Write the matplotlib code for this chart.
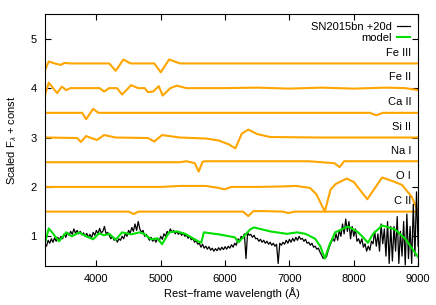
import numpy as np
import matplotlib
matplotlib.use('Agg')
import matplotlib.pyplot as plt

plt.rcParams['font.family'] = ['Liberation Sans', 'DejaVu Sans']
plt.rcParams['mathtext.fontset'] = 'custom'
plt.rcParams['mathtext.rm'] = 'Liberation Sans'
plt.rcParams['mathtext.it'] = 'Liberation Sans:italic'

# observed spectrum, sampled every 25 A
obs_wave = np.arange(3200, 9001, 25)
obs_flux = [
    0.84, 0.80, 0.92, 0.86, 0.95, 0.88, 0.97, 0.90,
    0.98, 0.92, 1.00, 0.95, 1.05, 0.98, 1.08, 1.02,
    1.10, 1.04, 1.15, 1.06, 1.12, 1.05, 1.10, 1.03,
    1.07, 1.00, 1.06, 0.98, 1.04, 0.97, 1.08, 1.02,
    1.12, 1.05, 1.16, 1.07, 1.10, 1.20, 1.05, 1.08,
    1.02, 0.95, 1.00, 0.92, 0.96, 0.88, 0.95, 0.92,
    1.00, 0.95, 1.06, 1.00, 1.12, 1.06, 1.18, 1.10,
    1.25, 1.12, 1.30, 1.15, 1.08, 1.12, 1.00, 1.04,
    0.98, 0.92, 0.98, 0.90, 0.95, 0.88, 0.96, 0.90,
    1.00, 0.94, 1.05, 1.00, 1.10, 1.05, 1.15, 1.08,
    1.12, 1.05, 1.10, 1.04, 1.08, 1.02, 1.07, 1.00,
    1.03, 0.96, 1.00, 0.93, 0.96, 0.88, 0.92, 0.84,
    0.86, 0.78, 0.84, 0.76, 0.80, 0.74, 0.79, 0.72,
    0.76, 0.70, 0.75, 0.71, 0.77, 0.72, 0.78, 0.73,
    0.79, 0.74, 0.80, 0.76, 0.83, 0.78, 0.86, 0.82,
    0.95, 0.90, 1.00, 0.96, 1.05, 0.55, 1.08, 1.02,
    1.04, 0.98, 1.02, 0.95, 0.96, 0.90, 0.94, 0.88,
    0.92, 0.86, 0.90, 0.84, 0.88, 0.82, 0.86, 0.80,
    0.84, 0.45, 0.86, 0.82, 0.88, 0.84, 0.92, 0.86,
    0.94, 0.88, 0.96, 0.90, 0.98, 0.92, 1.00, 0.94,
    0.96, 0.90, 0.94, 0.86, 0.88, 0.82, 0.86, 0.78,
    0.80, 0.74, 0.76, 0.68, 0.62, 0.55, 0.60, 0.58,
    0.70, 0.80, 0.88, 0.95, 0.90, 1.05, 0.92, 1.12,
    1.00, 1.25, 1.05, 1.35, 1.10, 1.30, 0.95, 1.20,
    1.00, 1.15, 0.90, 0.95, 0.85, 0.95, 0.78, 0.85,
    0.70, 0.80, 0.72, 0.90, 0.85, 1.10, 0.80, 1.05,
    0.70, 1.25, 0.85, 1.15, 0.60, 1.30, 0.45, 1.20,
    0.50, 1.20, 0.70, 1.40, 0.45, 1.10, 0.60, 1.30,
    0.42, 1.45, 0.55, 1.20, 0.45, 1.65, 0.60, 1.90,
    0.80,
]

model_wave = [3200, 3260, 3330, 3420, 3530, 3620, 3730, 3840, 3950, 4040,
              4120, 4200, 4300, 4400, 4540, 4670, 4740, 4850, 4950, 5020,
              5130, 5250, 5380, 5580, 5630, 5670, 5900, 6150, 6210, 6390,
              6450, 6700, 6960, 7120, 7250, 7400, 7480, 7550, 7620, 7710,
              7910, 8050, 8130, 8220, 8300, 8440, 8640, 8800, 9000]
model_flux = [0.86, 1.16, 1.05, 0.90, 1.08, 1.00, 1.08, 1.00, 0.94, 1.06,
              1.02, 1.05, 0.93, 1.08, 1.04, 1.08, 1.05, 0.94, 0.96, 0.84,
              1.08, 1.10, 1.05, 0.90, 0.87, 1.08, 1.04, 0.98, 0.88, 1.14,
              1.18, 1.10, 1.05, 1.08, 1.05, 0.95, 0.80, 0.55, 0.82, 1.08,
              1.20, 1.10, 1.00, 0.87, 1.05, 1.22, 1.14, 0.95, 0.58]

# single-ion contributions (already offset)
ions = ['Fe III', 'Fe II', 'Ca II', 'Si II', 'Na I', 'O I', 'C II']
ion_offset = [4.5, 4.0, 3.5, 3.0, 2.5, 2.0, 1.5]

feiii_wave = [3200, 3260, 3350, 3450, 3500, 3600, 4200, 4300, 4420, 4530,
              4900, 5000, 5130, 5300, 9000]
feiii_flux = [4.36, 4.54, 4.50, 4.47, 4.51, 4.50, 4.50, 4.35, 4.58, 4.50,
              4.50, 4.32, 4.58, 4.50, 4.50]

feii_wave = [3200, 3260, 3390, 3465, 3530, 3600, 4050, 4120, 4200, 4320,
             4400, 4540, 4650, 4750, 4800, 4880, 4970, 5030, 5150, 5250,
             5400, 6000, 6500, 7000, 7500, 8000, 8500, 8800, 9000]
feii_flux = [3.86, 4.11, 3.90, 4.03, 3.96, 4.00, 4.00, 3.93, 4.00, 4.00,
             3.87, 4.06, 4.00, 4.00, 3.92, 3.93, 4.04, 3.85, 4.00, 4.05,
             4.00, 4.00, 4.01, 3.99, 4.01, 3.99, 4.01, 4.00, 3.96]

caii_wave = [3200, 3780, 3840, 3950, 4030, 8250, 8350, 8450, 9000]
caii_flux = [3.50, 3.50, 3.37, 3.58, 3.50, 3.50, 3.45, 3.50, 3.50]

siii_wave = [3200, 3700, 3760, 3840, 3920, 4010, 4120, 4300, 4800, 4900,
             5020, 5300, 5700, 5900, 6060, 6160, 6260, 6360, 6500, 6700,
             7500, 9000]
siii_flux = [3.00, 2.99, 2.91, 3.03, 2.99, 2.95, 3.05, 3.00, 2.99, 2.92,
             3.05, 3.00, 2.98, 2.94, 2.86, 2.78, 3.08, 3.16, 3.07, 3.01,
             3.00, 3.00]

nai_wave = [3200, 5300, 5400, 5530, 5590, 5650, 5700, 7300, 7700, 7780,
            7850, 9000]
nai_flux = [2.50, 2.50, 2.52, 2.48, 2.31, 2.51, 2.52, 2.52, 2.48, 2.40,
            2.52, 2.52]

oi_wave = [3200, 5000, 5300, 5700, 5900, 5990, 6100, 6500, 6900, 7100,
           7320, 7420, 7550, 7640, 7720, 7890, 8000, 8210, 8440, 8600,
           8750, 8900, 9000]
oi_flux = [2.00, 2.00, 2.02, 2.02, 1.98, 1.95, 2.00, 2.00, 2.01, 2.02,
           1.98, 1.85, 1.50, 1.95, 2.06, 2.17, 2.10, 1.75, 2.19, 2.12,
           2.04, 1.80, 1.50]

cii_wave = [3200, 4500, 4580, 4650, 6280, 6360, 6440, 6600, 6900, 6980,
            7080, 9000]
cii_flux = [1.50, 1.50, 1.45, 1.50, 1.50, 1.41, 1.51, 1.51, 1.50, 1.47,
            1.50, 1.50]

ion_waves = [feiii_wave, feii_wave, caii_wave, siii_wave, nai_wave, oi_wave, cii_wave]
ion_fluxes = [feiii_flux, feii_flux, caii_flux, siii_flux, nai_flux, oi_flux, cii_flux]

fig = plt.figure(figsize=(4.36, 3.05), dpi=100)
ax = fig.add_axes([0.103, 0.128, 0.856, 0.826])

for w, f in zip(ion_waves, ion_fluxes):
    ax.plot(w, f, color='#ffa500', lw=1.5)

ax.plot(obs_wave, obs_flux, color='black', lw=0.9, label='SN2015bn +20d')
ax.plot(model_wave, model_flux, color='#00e000', lw=1.5, label='model')

for name, off in zip(ions, ion_offset):
    ax.text(8890, off + 0.22, name, ha='right', va='center', fontsize=8)

ax.set_xlim(3200, 9000)
ax.set_ylim(0.4, 5.5)
ax.set_xticks([4000, 5000, 6000, 7000, 8000, 9000])
ax.set_yticks([1, 2, 3, 4, 5])
ax.tick_params(direction='in', top=True, right=True, length=4, labelsize=8, pad=6)
ax.set_xlabel('Rest\u2212frame wavelength (\u00c5)', fontsize=8, labelpad=2)
ax.set_ylabel('Scaled F$_\\lambda$ + const', fontsize=8, labelpad=8)

ax.legend(loc='upper right', frameon=False, fontsize=8, markerfirst=False,
          handlelength=1.2, handletextpad=0.5, labelspacing=0.1,
          borderaxespad=0.3)

fig.savefig('out.png', dpi=100)
